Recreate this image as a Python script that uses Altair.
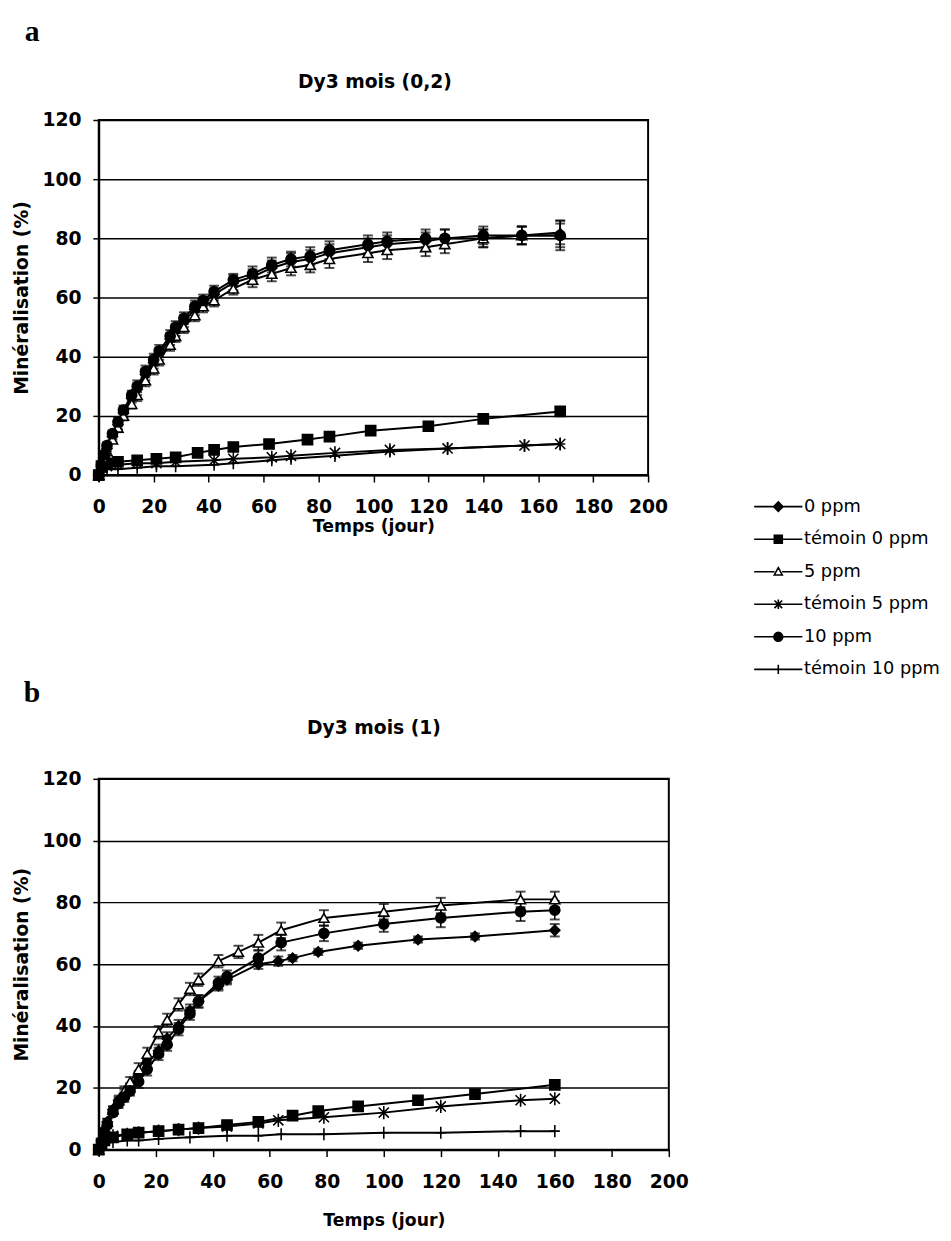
import altair as alt
import pandas as pd

SERIES = ["0 ppm", "témoin 0 ppm", "5 ppm", "témoin 5 ppm", "10 ppm", "témoin 10 ppm"]
PANEL_LABELS = ["a", "b"]
PANEL_TITLES = ["Dy3 mois (0,2)", "Dy3 mois (1)"]
X_TICKS = [0, 20, 40, 60, 80, 100, 120, 140, 160, 180, 200]
Y_TICKS = [0, 20, 40, 60, 80, 100, 120]

# ---------------- Panel a : Dy3 mois (0,2) ----------------
A_T_MAIN = [0, 1, 2, 3, 5, 7, 9, 12, 14, 17, 20, 22, 26, 28, 31, 35, 38, 42, 49, 56,
            63, 70, 77, 84, 98, 105, 119, 126, 140, 154, 168]
A_0PPM = [0, 3, 6, 9, 13, 17, 21, 26, 29, 34, 38, 41, 46, 49, 52, 56, 58, 61, 65, 67,
          70, 72, 73, 75, 77, 78, 79, 80, 80, 81, 81]
A_0PPM_ERR = [0, 0.5, 1, 1, 1, 1.5, 1.5, 1.5, 2, 2, 2, 2, 2, 2, 2, 2, 2, 2, 2.5, 2.5,
              2.5, 3, 3, 3, 3, 3, 3, 3, 3, 3, 4]
A_5PPM = [0, 2.5, 5, 8, 12, 16, 20, 24, 27, 32, 36, 39, 44, 47, 50, 54, 57, 59, 63, 66,
          68, 70, 71, 73, 75, 76, 77, 78, 80, 81, 82]
A_5PPM_ERR = [0, 0.5, 1, 1, 1, 1.5, 1.5, 1.5, 2, 2, 2, 2, 2, 2, 2, 2, 2, 2, 2, 2.5,
              2.5, 2.5, 2.5, 3, 3, 3, 3, 3, 3, 3, 4]
A_10PPM = [0, 3.5, 7, 10, 14, 18, 22, 27, 30, 35, 39, 42, 47, 50, 53, 57, 59, 62, 66, 68,
           71, 73, 74, 76, 78, 79, 80, 80, 81, 81, 81]
A_10PPM_ERR = [0, 0.5, 1, 1, 1, 1.5, 1.5, 1.5, 2, 2, 2, 2, 2, 2, 2, 2, 2, 2, 2, 2.5,
               2.5, 2.5, 3, 3, 3, 3, 3, 3, 3, 3, 5]
A_T_T0 = [0, 1, 3, 7, 14, 21, 28, 36, 42, 49, 62, 76, 84, 99, 120, 140, 168]
A_T0PPM = [0, 3, 4, 4.5, 5, 5.5, 6, 7.5, 8.5, 9.5, 10.5, 12, 13, 15, 16.5, 19, 21.5]
A_T_T5 = [0, 1, 3, 7, 14, 21, 28, 42, 49, 63, 70, 86, 106, 127, 155, 168]
A_T5PPM = [0, 2.5, 3, 3.5, 4, 4, 4.5, 5, 5.5, 6, 6.5, 7.5, 8.5, 9, 10, 10.5]
A_T_T10 = [0, 1, 3, 7, 14, 21, 28, 42, 49, 63, 70, 86, 106, 127, 155, 168]
A_T10PPM = [0, 1.5, 2, 2, 2.5, 3, 3, 3.5, 4, 5, 5.5, 6.5, 8, 9, 10, 10.5]

# ---------------- Panel b : Dy3 mois (1) ----------------
B_T_0 = [0, 1, 2, 3, 5, 7, 9, 11, 14, 17, 21, 24, 28, 32, 35, 42, 45, 56, 63, 68,
         77, 91, 112, 132, 160]
B_0PPM = [0, 3, 6, 9, 13, 16, 18, 20, 24, 28, 32, 36, 40, 45, 48, 53, 55, 60, 61, 62,
          64, 66, 68, 69, 71]
B_0PPM_ERR = [0, 0.5, 1, 1, 1, 1, 1.5, 1.5, 1.5, 1.5, 2, 2, 2, 2, 2, 1.5, 1.5, 1.5,
              1.5, 1, 1, 1, 1, 1, 2]
B_T_5 = [0, 1, 2, 3, 5, 7, 9, 11, 14, 17, 21, 24, 28, 32, 35, 42, 49, 56, 64, 79,
         100, 120, 148, 160]
B_5PPM = [0, 3, 6, 9, 13, 16, 19, 22, 26, 31, 38, 42, 47, 52, 55, 61, 64, 67, 71, 75,
          77, 79, 81, 81]
B_5PPM_ERR = [0, 0.5, 1, 1, 1, 1.5, 1.5, 1.5, 2, 2, 2, 2, 2, 2, 2, 2, 2, 2.5, 2.5, 2.5,
              2.5, 2.5, 2.5, 2.5]
B_T_10 = [0, 1, 2, 3, 5, 7, 9, 11, 14, 17, 21, 24, 28, 32, 35, 42, 45, 56, 64, 79,
          100, 120, 148, 160]
B_10PPM = [0, 2.5, 5, 8, 12, 15, 17, 19, 22, 26, 31, 34, 39, 44, 48, 54, 56, 62, 67, 70,
           73, 75, 77, 77.5]
B_10PPM_ERR = [0, 0.5, 1, 1, 1, 1.5, 1.5, 1.5, 2, 2, 2, 2, 2, 2, 2, 2, 2, 2.5, 2.5, 2.5,
               2.5, 3, 3, 3]
B_T_T0 = [0, 1, 2, 5, 10, 14, 21, 28, 35, 45, 56, 68, 77, 91, 112, 132, 160]
B_T0PPM = [0, 2, 3, 4, 5, 5.5, 6, 6.5, 7, 8, 9, 11, 12.5, 14, 16, 18, 21]
B_T_T5 = [0, 1, 2, 5, 10, 14, 21, 28, 35, 45, 56, 63, 79, 100, 120, 148, 160]
B_T5PPM = [0, 2, 3, 4.5, 5, 5.5, 6, 6.5, 7, 7.5, 8.5, 9.5, 10.5, 12, 14, 16, 16.5]
B_T_T10 = [0, 1, 2, 5, 10, 14, 21, 32, 45, 56, 64, 79, 100, 120, 148, 160]
B_T10PPM = [0, 1.5, 2, 2.5, 3, 3, 3.5, 4, 4.5, 4.5, 5, 5, 5.5, 5.5, 6, 6]

# marker shapes in the plots and in the legend (line + marker)
PLOT_SHAPES = ["diamond", "square", "triangle-up",
               "M-1,-1L1,1M-1,1L1,-1M0,-1.3L0,1.3",
               "circle",
               "M-1,0L1,0M0,-1.2L0,1.2"]
PLOT_FILLS = ["black", "black", "white", "black", "black", "black"]
LEGEND_STROKES = ["black", "black", "black", "black", "black", "black"]
LEGEND_SHAPES = [
    "M-1.63,0L1.63,0M0,-0.32L0.32,0L0,0.32L-0.32,0Z",
    "M-1.63,0L1.63,0M-0.27,-0.27L0.27,-0.27L0.27,0.27L-0.27,0.27Z",
    "M-1.63,0L-0.26,0M0.26,0L1.63,0M0,-0.28L0.27,0.22L-0.27,0.22Z",
    "M-1.63,0L1.63,0M-0.26,-0.26L0.26,0.26M-0.26,0.26L0.26,-0.26M0,-0.32L0,0.32",
    "M-1.63,0L1.63,0M-0.3,0A0.3,0.3,0,1,0,0.3,0A0.3,0.3,0,1,0,-0.3,0Z",
    "M-1.63,0L1.63,0M0,-0.32L0,0.32",
]


def rows(panel, name, ts, vs, errs=None):
    out = []
    for i, (t, v) in enumerate(zip(ts, vs)):
        e = errs[i] if errs is not None else 0
        out.append({"panel": panel, "series": name, "t": t, "v": v,
                    "lo": v - e, "hi": v + e, "err": e})
    return out


data_a = (rows("a", SERIES[0], A_T_MAIN, A_0PPM, A_0PPM_ERR)
          + rows("a", SERIES[1], A_T_T0, A_T0PPM)
          + rows("a", SERIES[2], A_T_MAIN, A_5PPM, A_5PPM_ERR)
          + rows("a", SERIES[3], A_T_T5, A_T5PPM)
          + rows("a", SERIES[4], A_T_MAIN, A_10PPM, A_10PPM_ERR)
          + rows("a", SERIES[5], A_T_T10, A_T10PPM))
data_b = (rows("b", SERIES[0], B_T_0, B_0PPM, B_0PPM_ERR)
          + rows("b", SERIES[1], B_T_T0, B_T0PPM)
          + rows("b", SERIES[2], B_T_5, B_5PPM, B_5PPM_ERR)
          + rows("b", SERIES[3], B_T_T5, B_T5PPM)
          + rows("b", SERIES[4], B_T_10, B_10PPM, B_10PPM_ERR)
          + rows("b", SERIES[5], B_T_T10, B_T10PPM))
df_a = pd.DataFrame(data_a)
df_b = pd.DataFrame(data_b)

FONT = "DejaVu Sans"

LEGEND_PROPS = dict(title=None, orient="none", legendX=673, legendY=376,
                    symbolSize=900, symbolStrokeWidth=1.6, symbolStrokeColor="black",
                    symbolOpacity=1, labelFont=FONT, labelFontSize=18,
                    labelColor="black", labelOffset=10, rowPadding=8)


def panel(df, idx, width, height, x_title_pad, title_dx, title_dy, lab_dx, lab_dy,
          with_legend):
    base = alt.Chart(df)
    x = alt.X("t:Q", scale=alt.Scale(domain=[0, 200], nice=False),
              axis=alt.Axis(values=X_TICKS, title="Temps (jour)", grid=False,
                            labelPadding=16, titlePadding=x_title_pad, tickSize=7,
                            titleFontSize=17.5, labelOverlap=False, labelFlush=False))
    y = alt.Y("v:Q", scale=alt.Scale(domain=[0, 120], nice=False),
              axis=alt.Axis(values=Y_TICKS, title="Minéralisation (%)", grid=True,
                            labelPadding=12, titlePadding=11, tickSize=6,
                            titleFontSize=19, labelOverlap=False, labelFlush=False))
    lines = base.mark_line(color="black", strokeWidth=2).encode(
        x=x, y=y, detail="series:N", order="t:Q")
    err = base.transform_filter("datum.err > 0").mark_rule(
        color="black", strokeWidth=1.5).encode(x="t:Q", y="lo:Q", y2="hi:Q")
    cap_lo = base.transform_filter("datum.err > 0").mark_tick(
        color="black", orient="horizontal", size=10, thickness=2).encode(x="t:Q", y="lo:Q")
    cap_hi = base.transform_filter("datum.err > 0").mark_tick(
        color="black", orient="horizontal", size=10, thickness=2).encode(x="t:Q", y="hi:Q")
    pts = base.mark_point(filled=False, size=105, strokeWidth=1.6, color="black",
                          opacity=1).encode(
        x="t:Q", y="v:Q",
        shape=alt.Shape("series:N", scale=alt.Scale(domain=SERIES, range=PLOT_SHAPES),
                        legend=None),
        fill=alt.Fill("series:N", scale=alt.Scale(domain=SERIES, range=PLOT_FILLS),
                      legend=None),
    )
    txt_df = pd.DataFrame({"lab": [PANEL_LABELS[idx]], "title": [PANEL_TITLES[idx]]})
    lab = alt.Chart(txt_df).mark_text(
        font="Liberation Serif", fontSize=30, fontWeight="bold", align="left",
        baseline="alphabetic", color="black").encode(
        text="lab:N", x=alt.value(lab_dx), y=alt.value(lab_dy))
    ttl = alt.Chart(txt_df).mark_text(
        font=FONT, fontSize=19, fontWeight="bold", align="center",
        baseline="alphabetic", color="black").encode(
        text="title:N", x=alt.value(title_dx), y=alt.value(title_dy))
    layers = [lines, err, cap_lo, cap_hi, pts, lab, ttl]
    if with_legend:
        leg = base.transform_filter("false").mark_point(
            filled=False, strokeWidth=1.6, opacity=1).encode(
            shape=alt.Shape("series:N",
                            scale=alt.Scale(domain=SERIES, range=LEGEND_SHAPES),
                            legend=alt.Legend(**LEGEND_PROPS)),
            fill=alt.Fill("series:N",
                          scale=alt.Scale(domain=SERIES, range=PLOT_FILLS),
                          legend=alt.Legend(**LEGEND_PROPS)),
            stroke=alt.Stroke("series:N",
                              scale=alt.Scale(domain=SERIES, range=LEGEND_STROKES),
                              legend=alt.Legend(**LEGEND_PROPS)),
        )
        layers.append(leg)
    ch = alt.layer(*layers).properties(width=width, height=height)
    if with_legend:
        ch = ch.resolve_scale(shape="independent", fill="independent",
                              stroke="independent")
    return ch


pa = panel(df_a, 0, 557, 360, 1, 280, -32, -75, -80, True)
pb = panel(df_b, 1, 578, 376, 21, 279, -45, -76, -78, False)

chart = alt.vconcat(pa, pb, spacing=308, bounds="flush").properties(
    padding={"left": 3, "top": 0, "right": 2, "bottom": 2}
).configure_view(stroke="black", strokeWidth=2).configure_axis(
    domainColor="black", domainWidth=2, tickColor="black", tickWidth=1.5,
    gridColor="black", gridWidth=1.5, gridOpacity=1,
    labelFont=FONT, labelFontSize=19, labelFontWeight="bold", labelColor="black",
    titleFont=FONT, titleFontWeight="bold", titleColor="black",
)

chart.save("out.html", embed_options={"renderer": "svg", "actions": False})
